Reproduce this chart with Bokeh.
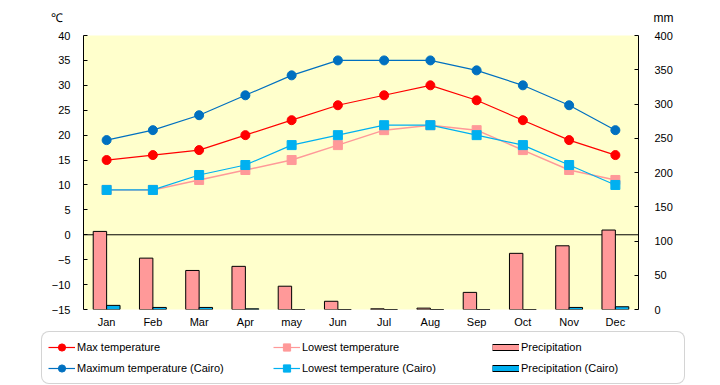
from bokeh.plotting import figure
from bokeh.layouts import column
from bokeh.models import (FactorRange, Range1d, LinearAxis, Span, Label, Legend,
                          LegendItem, ColumnDataSource, FixedTicker, Plot)
from bokeh.transform import dodge
from bokeh.embed import file_html
from bokeh.resources import INLINE

months = ["Jan", "Feb", "Mar", "Apr", "may", "Jun", "Jul", "Aug", "Sep", "Oct", "Nov", "Dec"]
max_temp = [15, 16, 17, 20, 23, 26, 28, 30, 27, 23, 19, 16]
min_temp = [9, 9, 11, 13, 15, 18, 21, 22, 21, 17, 13, 11]
precip = [114, 75, 57, 63, 34, 12, 1, 2, 25, 82, 93, 116]
cairo_max = [19, 21, 24, 28, 32, 35, 35, 35, 33, 30, 26, 21]
cairo_min = [9, 9, 12, 14, 18, 20, 22, 22, 20, 18, 14, 10]
cairo_precip = [6, 3, 3, 1, 0, 0, 0, 0, 0, 0, 3, 4]
temp_ticks = list(range(-15, 45, 5))
mm_ticks = list(range(0, 450, 50))

FONT = "Liberation Sans"
RED = "#FF0000"
BLUE = "#0070C0"
PINK = "#FF9999"
CYAN = "#00B0F0"
W = 720
HAS_FRAME_ALIGN = "frame_align" in Plot.properties()


def no_align(f):
    if HAS_FRAME_ALIGN:
        f.frame_align = False
    return f


def bare_figure(height, xr, yr):
    f = figure(width=W, height=height, output_backend="svg", toolbar_location=None,
               x_range=Range1d(*xr), y_range=Range1d(*yr),
               x_axis_location=None, y_axis_location=None, min_border=0,
               min_border_left=0, min_border_right=0, min_border_top=0, min_border_bottom=0)
    f.outline_line_color = None
    f.xgrid.grid_line_color = None
    f.ygrid.grid_line_color = None
    f.background_fill_color = "white"
    f.border_fill_color = "white"
    return no_align(f)


# ---------- top strip with unit labels ----------
top = bare_figure(27, (0, W), (0, 27))
top.add_layout(Label(x=50, y=10, text="℃", text_baseline="middle",
                     text_font_size="12px", text_color="black"))
top.add_layout(Label(x=653, y=10, text="mm", text_baseline="middle", text_font=FONT,
                     text_font_size="12px", text_color="black"))

# ---------- main chart ----------
src = ColumnDataSource(dict(month=months, max_temp=max_temp, min_temp=min_temp,
                            precip=precip, cairo_max=cairo_max, cairo_min=cairo_min,
                            cairo_precip=cairo_precip))

p = figure(width=W, height=303, output_backend="svg", toolbar_location=None,
           x_range=FactorRange(factors=months, range_padding=0),
           y_range=Range1d(-15, 40),
           min_border_left=83, min_border_right=82, min_border_top=8, min_border_bottom=20)
no_align(p)
p.extra_y_ranges = {"mm": Range1d(0, 400)}
p.background_fill_color = "#FFFFCC"
p.border_fill_color = "white"
p.outline_line_color = None
p.xgrid.grid_line_color = None
p.ygrid.grid_line_color = None

p.xaxis.axis_line_color = None
p.xaxis.major_tick_line_color = None
p.xaxis.minor_tick_line_color = None
p.xaxis.major_tick_out = 0
p.xaxis.major_tick_in = 0
p.xaxis.major_label_standoff = 6
p.xaxis.major_label_text_font = FONT
p.xaxis.major_label_text_font_size = "11px"
p.xaxis.major_label_text_color = "black"

ya = p.yaxis[0]
ya.ticker = FixedTicker(ticks=temp_ticks)
ya.axis_line_color = "black"
ya.major_tick_in = 4
ya.major_tick_out = 0
ya.minor_tick_line_color = None
ya.major_tick_line_color = "black"
ya.major_label_standoff = 13
ya.major_label_text_font = FONT
ya.major_label_text_font_size = "11px"
ya.major_label_text_color = "black"

ra = LinearAxis(y_range_name="mm", ticker=FixedTicker(ticks=mm_ticks))
ra.axis_line_color = "black"
ra.major_tick_in = 4
ra.major_tick_out = 0
ra.minor_tick_line_color = None
ra.major_tick_line_color = "black"
ra.major_label_standoff = 16
ra.major_label_text_font = FONT
ra.major_label_text_font_size = "11px"
ra.major_label_text_color = "black"
p.add_layout(ra, "right")

p.add_layout(Span(location=0, dimension="width", line_color="black", line_width=1,
                  level="underlay"))

bw = 0.29
p.vbar(x=dodge("month", -bw / 2, range=p.x_range), top="precip", bottom=0, width=bw,
       source=src, y_range_name="mm", fill_color=PINK, line_color="black", line_width=1)
p.vbar(x=dodge("month", bw / 2, range=p.x_range), top="cairo_precip", bottom=0, width=bw,
       source=src, y_range_name="mm", fill_color=CYAN, line_color="black", line_width=1)

p.line("month", "min_temp", source=src, line_color=PINK, line_width=1.5)
p.scatter("month", "min_temp", source=src, marker="square", size=9,
          fill_color=PINK, line_color=PINK)
p.line("month", "cairo_min", source=src, line_color=CYAN, line_width=1.2)
p.scatter("month", "cairo_min", source=src, marker="square", size=9,
          fill_color=CYAN, line_color=CYAN)
p.line("month", "max_temp", source=src, line_color=RED, line_width=1.2)
p.scatter("month", "max_temp", source=src, marker="circle", size=9,
          fill_color=RED, line_color=RED)
p.line("month", "cairo_max", source=src, line_color=BLUE, line_width=1.2)
p.scatter("month", "cairo_max", source=src, marker="circle", size=9,
          fill_color=BLUE, line_color=BLUE)

# ---------- legend strip (legend-only proxies, nothing plotted) ----------
lf = bare_figure(55, (0, W), (0, 55))
NAN = [float("nan")]


def proxy_line_marker(color, marker):
    ln = lf.line(x=NAN, y=NAN, line_color=color, line_width=1.2)
    sc = lf.scatter(x=NAN, y=NAN, marker=marker, fill_color=color, line_color=color)
    return [ln, sc]


def proxy_bar(color):
    b = lf.line(x=NAN, y=NAN, line_color="black", line_width=7)
    f = lf.line(x=NAN, y=NAN, line_color=color, line_width=5)
    return [b, f]


def make_legend(items, loc, boxed, label_width=0):
    lg = Legend(items=items, location=loc, orientation="vertical",
                glyph_width=27, glyph_height=18, label_height=18, label_standoff=2,
                spacing=3, padding=6, margin=0, label_width=label_width,
                label_text_font=FONT, label_text_font_size="11px", label_text_color="black")
    if boxed:
        lg.border_line_color = "#AAAAAA"
        lg.border_line_width = 1.5
        lg.background_fill_color = "white"
        lg.background_fill_alpha = 1
        if "border_radius" in Legend.properties():
            lg.border_radius = 8
    else:
        lg.border_line_color = None
        lg.background_fill_alpha = 0
    return lg


leg1 = make_legend([LegendItem(label="Max temperature", renderers=proxy_line_marker(RED, "circle")),
                    LegendItem(label="Maximum temperature (Cairo)",
                               renderers=proxy_line_marker(BLUE, "circle"))],
                   (41, 1), True, label_width=601)
leg2 = make_legend([LegendItem(label="Lowest temperature", renderers=proxy_line_marker(PINK, "square")),
                    LegendItem(label="Lowest temperature (Cairo)",
                               renderers=proxy_line_marker(CYAN, "square"))],
                   (273, 8), False)
leg3 = make_legend([LegendItem(label="Precipitation", renderers=proxy_bar(PINK)),
                    LegendItem(label="Precipitation (Cairo)", renderers=proxy_bar(CYAN))],
                   (492, 8), False)
lf.add_layout(leg1, "center")
lf.add_layout(leg2, "center")
lf.add_layout(leg3, "center")

layout = column(top, p, lf, spacing=0)
open("out.html", "w").write(file_html(layout, INLINE))
